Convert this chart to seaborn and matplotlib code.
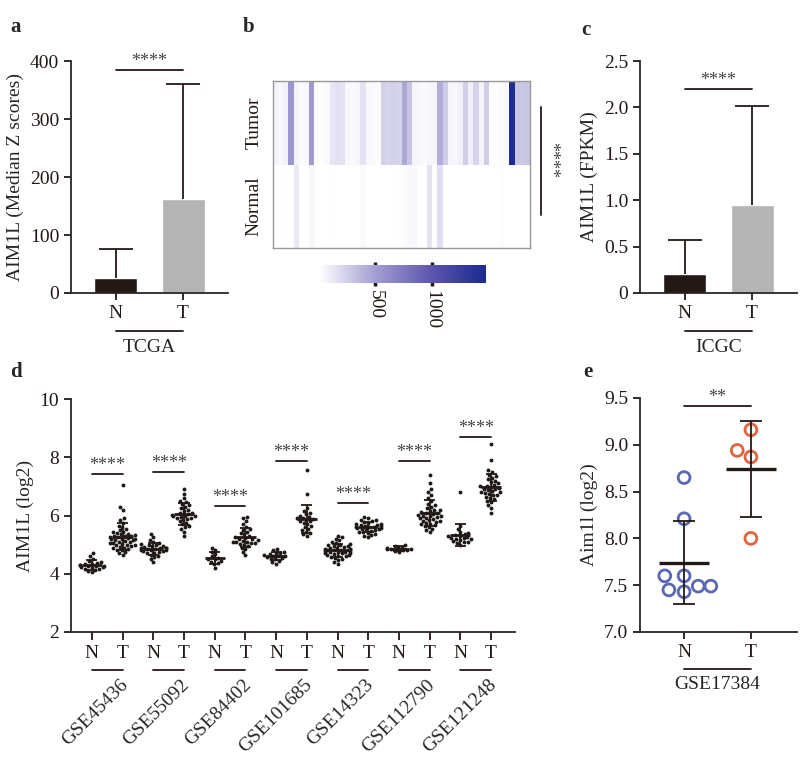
import numpy as np
import pandas as pd
import matplotlib
matplotlib.use("Agg")
import matplotlib.pyplot as plt
import seaborn as sns
from matplotlib.colors import LinearSegmentedColormap

# ---- data ----
groups_nt = ["N", "T"]

# a: TCGA, mean and upper SD
tcga_mean = [25, 162]
tcga_sd = [50, 198]

# c: ICGC
icgc_mean = [0.21, 0.95]
icgc_sd = [0.36, 1.07]

# b: heatmap, one value per sample column
tumor_row = [60, 40, 70, 550, 60, 30, 40, 520, 20, 10,
             30, 130, 160, 150, 40, 30, 50, 150, 40, 30,
             20, 240, 220, 240, 230, 450, 300, 60, 40, 30,
             50, 60, 420, 260, 60, 50, 80, 250, 80, 220,
             60, 260, 20, 10, 30, 30, 1450, 290, 280, 290]
normal_row = [0, 5, 10, 0, 110, 5, 0, 40, 10, 0,
              5, 10, 0, 5, 0, 10, 0, 30, 5, 0,
              0, 10, 5, 0, 10, 20, 40, 40, 10, 5,
              150, 10, 170, 5, 0, 0, 5, 0, 0, 5,
              0, 0, 5, 10, 20, 5, 10, 5, 0, 0]

# d: GEO cohorts
gse_names = ["GSE45436", "GSE55092", "GSE84402", "GSE101685",
             "GSE14323", "GSE112790", "GSE121248"]
d_normal = [
    [4.05, 4.10, 4.12, 4.15, 4.18, 4.20, 4.22, 4.24, 4.25, 4.27, 4.28,
     4.30, 4.30, 4.32, 4.35, 4.38, 4.40, 4.45, 4.50, 4.60, 4.70],
    [4.40, 4.50, 4.58, 4.62, 4.66, 4.70, 4.72, 4.75, 4.77, 4.78, 4.80,
     4.82, 4.83, 4.85, 4.85, 4.87, 4.88, 4.90, 4.90, 4.92, 4.94, 4.96,
     4.98, 5.00, 5.03, 5.06, 5.10, 5.15, 5.25, 5.35],
    [4.20, 4.33, 4.38, 4.42, 4.45, 4.50, 4.52, 4.55, 4.60, 4.68, 4.75,
     4.82, 4.90],
    [4.35, 4.40, 4.45, 4.50, 4.52, 4.55, 4.58, 4.60, 4.60, 4.62, 4.65,
     4.68, 4.70, 4.72, 4.75, 4.80, 4.85],
    [4.35, 4.42, 4.48, 4.52, 4.55, 4.58, 4.60, 4.62, 4.64, 4.66, 4.68,
     4.70, 4.70, 4.72, 4.73, 4.75, 4.76, 4.78, 4.78, 4.80, 4.80, 4.82,
     4.83, 4.84, 4.85, 4.86, 4.88, 4.90, 4.92, 4.94, 4.96, 4.98, 5.00,
     5.03, 5.06, 5.10, 5.15, 5.20, 5.25, 5.30],
    [4.75, 4.78, 4.80, 4.82, 4.84, 4.85, 4.86, 4.88, 4.90, 4.93, 4.96,
     5.00],
    [5.00, 5.05, 5.08, 5.10, 5.12, 5.15, 5.18, 5.20, 5.22, 5.24, 5.25,
     5.28, 5.30, 5.32, 5.35, 5.40, 5.45, 5.55, 5.65, 6.80],
]
d_tumor = [
    [4.65, 4.70, 4.75, 4.80, 4.82, 4.85, 4.88, 4.90, 4.92, 4.95, 4.97,
     5.00, 5.00, 5.02, 5.05, 5.07, 5.10, 5.10, 5.12, 5.15, 5.15, 5.18,
     5.20, 5.20, 5.22, 5.25, 5.25, 5.28, 5.30, 5.30, 5.33, 5.35, 5.38,
     5.40, 5.42, 5.45, 5.50, 5.55, 5.60, 5.65, 5.75, 5.85, 5.90, 6.20,
     6.30, 7.05],
    [5.30, 5.45, 5.55, 5.60, 5.65, 5.70, 5.75, 5.80, 5.85, 5.88, 5.90,
     5.93, 5.95, 5.97, 6.00, 6.00, 6.02, 6.05, 6.08, 6.10, 6.15, 6.20,
     6.25, 6.30, 6.35, 6.40, 6.45, 6.50, 6.60, 6.75, 6.90],
    [4.65, 4.75, 4.85, 4.90, 4.95, 5.00, 5.02, 5.05, 5.05, 5.08, 5.10,
     5.10, 5.12, 5.15, 5.18, 5.20, 5.22, 5.25, 5.30, 5.35, 5.40, 5.45,
     5.50, 5.55, 5.60, 5.70, 5.80, 5.90, 5.95],
    [5.30, 5.35, 5.40, 5.45, 5.50, 5.55, 5.60, 5.65, 5.70, 5.75, 5.80,
     5.82, 5.85, 5.88, 5.90, 5.92, 5.95, 6.00, 6.05, 6.10, 6.15, 6.25,
     6.75, 7.55],
    [5.25, 5.30, 5.33, 5.36, 5.40, 5.42, 5.45, 5.47, 5.50, 5.52, 5.54,
     5.55, 5.57, 5.58, 5.60, 5.60, 5.62, 5.63, 5.65, 5.66, 5.68, 5.70,
     5.72, 5.75, 5.78, 5.80, 5.83, 5.86, 5.90, 5.95],
    [5.45, 5.50, 5.55, 5.60, 5.63, 5.66, 5.70, 5.72, 5.75, 5.78, 5.80,
     5.82, 5.85, 5.88, 5.90, 5.92, 5.95, 5.97, 6.00, 6.00, 6.02, 6.05,
     6.08, 6.10, 6.12, 6.15, 6.18, 6.20, 6.25, 6.30, 6.35, 6.40, 6.50,
     6.60, 6.70, 6.80, 6.90, 7.10, 7.40],
    [6.10, 6.25, 6.35, 6.45, 6.50, 6.55, 6.60, 6.65, 6.70, 6.72, 6.75,
     6.78, 6.80, 6.82, 6.85, 6.88, 6.90, 6.92, 6.95, 6.98, 7.00, 7.02,
     7.05, 7.10, 7.15, 7.20, 7.25, 7.30, 7.35, 7.40, 7.50, 7.55, 7.90,
     8.45],
]
d_sig_y = [7.42, 7.49, 6.32, 7.87, 6.43, 7.87, 8.70]

# e: GSE17384
e_normal = [8.65, 8.21, 7.60, 7.60, 7.49, 7.43, 7.45, 7.49]
e_tumor = [9.16, 8.94, 8.87, 8.00]

# ---- style ----
sns.set_style("ticks")
plt.rcParams["font.family"] = ["Liberation Serif", "DejaVu Serif"]
plt.rcParams["axes.linewidth"] = 1.3
FS = 14
INK = "#231815"
W, H = 800, 759
fig = plt.figure(figsize=(W / 100, H / 100), dpi=100)


def px_axes(x0, y0, x1, y1):
    return fig.add_axes([x0 / W, 1 - y1 / H, (x1 - x0) / W, (y1 - y0) / H])


def style(ax):
    sns.despine(ax=ax)
    ax.tick_params(direction="out", length=5, width=1.3, labelsize=FS,
                   colors=INK)
    ax.set_xlabel("")


def sig(ax, x0, x1, y, text):
    ax.plot([x0, x1], [y, y], color=INK, lw=1.3, clip_on=False)
    ax.annotate(text, ((x0 + x1) / 2, y), xytext=(0, 0),
                textcoords="offset points", ha="center", va="bottom",
                fontsize=13, color="#444444", annotation_clip=False)


def group_label(ax, x0, x1, text, yl, yt):
    tr = ax.get_xaxis_transform()
    ax.plot([x0, x1], [yl, yl], transform=tr, color=INK, lw=1.3,
            clip_on=False)
    ax.text((x0 + x1) / 2, yt, text, transform=tr, ha="center",
            va="center", fontsize=FS)


def bar_panel(ax, means, sds, top, ticks, ticklabels, ylabel, name, sig_y):
    df = pd.DataFrame({"grp": groups_nt, "val": means})
    sns.barplot(data=df, x="grp", y="val", hue="grp",
                palette=[INK, "#b4b4b4"], width=0.64, errorbar=None,
                legend=False, saturation=1, ax=ax)
    for k, (m, s) in enumerate(zip(means, sds)):
        ax.vlines(k, m, m + s, color=INK, lw=1.3)
        ax.hlines(m + s, k - 0.26, k + 0.26, color=INK, lw=1.3)
    ax.set_ylim(0, top)
    ax.set_xlim(-0.67, 1.67)
    ax.set_yticks(ticks)
    ax.set_yticklabels(ticklabels)
    ax.set_ylabel(ylabel, fontsize=FS)
    style(ax)
    sig(ax, 0, 1, sig_y, "****")
    group_label(ax, 0, 1, name, -0.164, -0.233)


# a
ax_a = px_axes(71, 61, 228, 293)
bar_panel(ax_a, tcga_mean, tcga_sd, 400, [0, 100, 200, 300, 400],
          ["0", "100", "200", "300", "400"], "AIM1L (Median Z scores)",
          "TCGA", 384)

# c
ax_c = px_axes(640, 61, 797, 293)
bar_panel(ax_c, icgc_mean, icgc_sd, 2.5, [0, 0.5, 1.0, 1.5, 2.0, 2.5],
          ["0", "0.5", "1.0", "1.5", "2.0", "2.5"], "AIM1L (FPKM)",
          "ICGC", 2.2)

# b
ax_b = px_axes(273, 81, 530, 248)
cax = px_axes(319, 265, 486, 283)
cmap = LinearSegmentedColormap.from_list(
    "wb", [(0, "#ffffff"), (0.34, "#a19dd1"), (0.68, "#5c54ad"),
           (1, "#1b2a8f")])
heat = pd.DataFrame([tumor_row, normal_row], index=["Tumor", "Normal"])
sns.heatmap(heat, ax=ax_b, cmap=cmap, vmin=0, vmax=1480, cbar_ax=cax,
            cbar_kws={"orientation": "horizontal", "ticks": [500, 1000]},
            xticklabels=False, yticklabels=True)
ax_b.set_yticklabels(["Tumor", "Normal"], rotation=90, va="center",
                     fontsize=FS, color=INK)
ax_b.tick_params(left=False, pad=4)
for s in ax_b.spines.values():
    s.set_visible(True)
    s.set_color("#999999")
    s.set_linewidth(1)
cax.tick_params(direction="inout", length=4, width=2.5, top=True,
                bottom=True, labelsize=FS, colors=INK, pad=3)
cax.set_xticklabels(["500", "1000"], rotation=270, va="top")
cbar = ax_b.collections[0].colorbar
cbar.outline.set_edgecolor("#999999")
ax_b.plot([1.043, 1.043], [0.198, 0.844], transform=ax_b.transAxes,
          color=INK, lw=1.3, clip_on=False)
ax_b.text(1.082, 0.527, "****", transform=ax_b.transAxes, rotation=270,
          ha="center", va="center", fontsize=13, color="#444444")

# d
ax_d = px_axes(71, 399, 515, 632)
rows, order, ticklabs = [], [], []
for i, name in enumerate(gse_names):
    for lab, vals in (("N", d_normal[i]), ("T", d_tumor[i])):
        key = f"{lab}{i}"
        order.append(key)
        ticklabs.append(lab)
        rows += [(key, v) for v in vals]
dfd = pd.DataFrame(rows, columns=["grp", "val"])
sns.swarmplot(data=dfd, x="grp", y="val", order=order, color="#1e1a1a",
              size=2.8, ax=ax_d, warn_thresh=1)
for k, key in enumerate(order):
    v = dfd.loc[dfd.grp == key, "val"]
    m, s = v.mean(), v.std()
    ax_d.hlines(m, k - 0.33, k + 0.33, color=INK, lw=2, zorder=4)
    ax_d.vlines(k, m - s, m + s, color=INK, lw=1.3, zorder=4)
    ax_d.hlines([m - s, m + s], k - 0.18, k + 0.18, color=INK,
                lw=1.3, zorder=4)
ax_d.set_ylim(2, 10)
ax_d.set_xlim(-0.68, 13.78)
ax_d.set_yticks([2, 4, 6, 8, 10])
ax_d.set_xticks(range(len(order)))
ax_d.set_xticklabels(ticklabs)
ax_d.set_ylabel("AIM1L (log2)", fontsize=FS)
style(ax_d)
ax_d.tick_params(axis="x", length=6)
tr = ax_d.get_xaxis_transform()
for i, name in enumerate(gse_names):
    sig(ax_d, 2 * i, 2 * i + 1, d_sig_y[i], "****")
    ax_d.plot([2 * i, 2 * i + 1], [-0.163, -0.163], transform=tr,
              color=INK, lw=1.3, clip_on=False)
    ax_d.text(2 * i + 0.9, -0.19, name, transform=tr, rotation=45,
              rotation_mode="anchor", ha="right", va="top", fontsize=FS)

# e
ax_e = px_axes(640, 398, 797, 632)
dfe = pd.DataFrame({"grp": ["N"] * len(e_normal) + ["T"] * len(e_tumor),
                    "val": e_normal + e_tumor})
sns.swarmplot(data=dfe, x="grp", y="val", hue="grp",
              palette=["#5a68b4", "#e0653f"], size=8.5, legend=False,
              ax=ax_e)
for coll in ax_e.collections:
    fc = coll.get_facecolors()
    coll.set_edgecolors(fc)
    coll.set_facecolors("none")
    coll.set_linewidth(2)
for k, vals in enumerate([e_normal, e_tumor]):
    m, s = np.mean(vals), np.std(vals, ddof=1)
    ax_e.hlines(m, k - 0.37, k + 0.37, color=INK, lw=2.4, zorder=4)
    ax_e.vlines(k, m - s, m + s, color=INK, lw=1.3, zorder=4)
    ax_e.hlines([m - s, m + s], k - 0.17, k + 0.17, color=INK,
                lw=1.3, zorder=4)
ax_e.set_ylim(7.0, 9.5)
ax_e.set_xlim(-0.66, 1.69)
ax_e.set_yticks([7.0, 7.5, 8.0, 8.5, 9.0, 9.5])
ax_e.set_yticklabels(["7.0", "7.5", "8.0", "8.5", "9.0", "9.5"])
ax_e.set_ylabel("Aim1l (log2)", fontsize=FS)
style(ax_e)
sig(ax_e, 0, 1, 9.41, "**")
group_label(ax_e, 0, 1, "GSE17384", -0.158, -0.226)

# panel letters
for x, y, t in [(10, 27, "a"), (243, 27, "b"), (581, 30, "c"),
                (10, 372, "d"), (583, 372, "e")]:
    fig.text(x / W, 1 - y / H, t, fontsize=15, fontweight="bold",
             va="center", ha="left")

fig.savefig("out.png", dpi=100)
